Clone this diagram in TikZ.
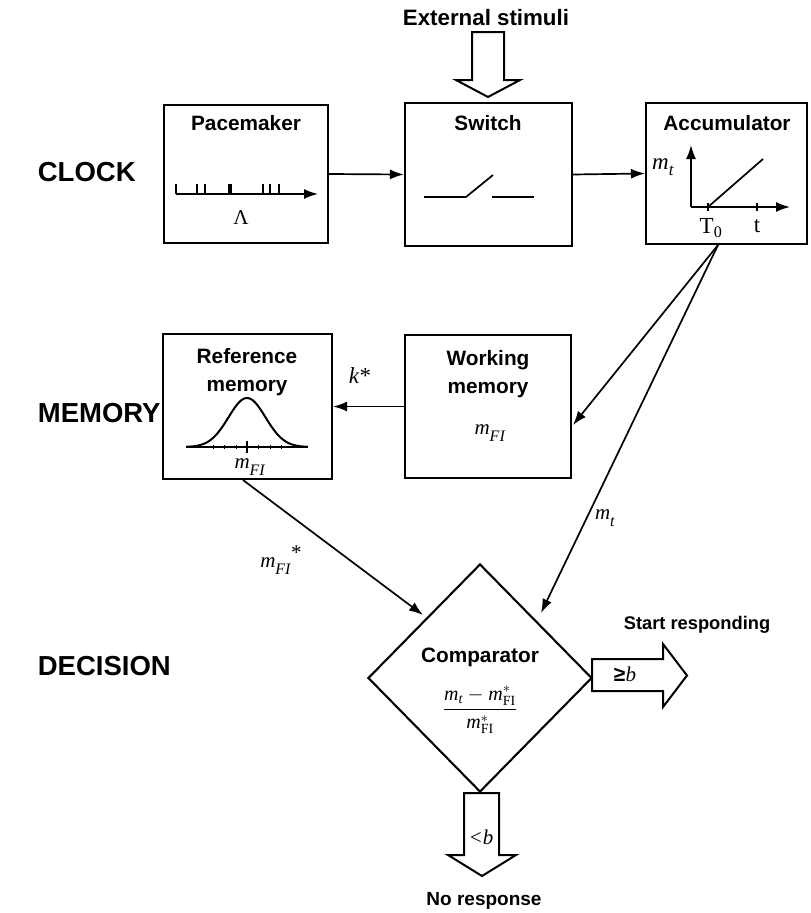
\documentclass[tikz,border=0pt]{standalone}
\usepackage{fontspec}
\setmainfont{Liberation Serif}
\setsansfont{Liberation Sans}
\usetikzlibrary{arrows.meta,shapes.geometric}
\newcommand\sbx[1]{\raisebox{-0.33em}{\fontsize{16}{18}\selectfont\textit{#1}}}
\newcommand\mFI{\textit{m}\sbx{FI}}
\newcommand\mTT{\textit{m}\sbx{t}}
\begin{document}
\begin{tikzpicture}[x=1pt,y=-1pt, line width=1.7pt,
 box/.style={draw, line width=2.1pt, inner sep=0pt},
 ttl/.style={font=\fontsize{20.8}{28}\selectfont\sffamily\bfseries, align=center, inner sep=0pt},
 big/.style={font=\fontsize{22.3}{24}\selectfont\sffamily\bfseries, inner sep=0pt},
 lbl/.style={font=\fontsize{27.5}{30}\selectfont\sffamily\bfseries, anchor=west, inner sep=0pt},
 mth/.style={font=\fontsize{21}{24}\selectfont, inner sep=0pt},
 arr/.style={-{Latex[length=14pt,width=10pt]}, line width=1.7pt},
 blk/.style={draw, line width=2pt, fill=white, line join=miter},
]
\useasboundingbox (0,0) rectangle (811,913);

% left labels
\node[lbl] (clock) at (37,172) {CLOCK};
\node[lbl] (memory) at (37,413) {MEMORY};
\node[lbl] (decision) at (37,666) {DECISION};

% boxes
\node[box, minimum width=164pt, minimum height=138pt] (pace) at (246,174) {};
\node[box, minimum width=167pt, minimum height=143pt] (switch) at (488.5,174.5) {};
\node[box, minimum width=161pt, minimum height=141pt] (accum) at (726.5,173.5) {};
\node[box, minimum width=169pt, minimum height=145pt] (refm) at (247.5,406.5) {};
\node[box, minimum width=166pt, minimum height=143pt] (work) at (488,406.5) {};
\node[box, diamond, minimum width=224pt, minimum height=228pt] (comp) at (480,678) {};

% titles
\node[ttl] (paceT) at (246,123) {Pacemaker};
\node[ttl] (switchT) at (488,123) {Switch};
\node[ttl] (accumT) at (727,123) {Accumulator};
\node[ttl] (refmT) at (247,372) {Reference\\memory};
\node[ttl] (workT) at (488,374) {Working\\memory};
\node[ttl] (compT) at (480,657) {Comparator};

% pacemaker internals
\draw[arr] (176,194) -- (318,194);
\foreach \x in {176,197,205,229,231,263,270,279} \draw (\x,194) -- (\x,184);
\node[mth] (lam) at (241,218) {Λ};

% switch internals
\draw (424,197) -- (466,197) -- (493,175);
\draw (492,197) -- (534,197);

% accumulator internals
\draw[arr] (691,207) -- (691,145);
\draw[arr] (691,207) -- (790,207);
\draw (708,207) -- (763,159);
\draw (708,203) -- (708,211);
\draw (757,203) -- (757,211);
\node[mth, font=\fontsize{23}{26}\selectfont] (T0) at (711,228) {T\textsubscript{0}};
\node[mth, font=\fontsize{23}{26}\selectfont] (tl) at (757,226) {t};
\node[mth, font=\fontsize{23}{26}\selectfont] (mtacc) at (663,167) {\textit{m}\raisebox{-0.25em}{\fontsize{17}{18}\selectfont\textit{t}}};

% reference memory internals
\draw[line width=2.4pt] (186,447) -- (308,447);
\draw[line width=2pt] plot[domain=-61:61, samples=80] ({247+\x}, {447-49*exp(-(\x/18.5)^2/2)});
\foreach \x in {213,224,236,258,270,281} \draw[line width=0.8pt] (\x,445) -- (\x,449);
\draw (247,441) -- (247,453);
\node[mth] (mfiR) at (250,467) {\mFI};

% working memory internals
\node[mth] (mfiW) at (490,433) {\mFI};

% comparator fraction
\node[mth, font=\fontsize{20}{22}\selectfont] (frac) at (480,710) {$\displaystyle\frac{\mathit{m}_{\mathit{t}} - \mathit{m}_{\mathrm{FI}}^{*}}{\mathit{m}_{\mathrm{FI}}^{*}}$};

% connectors
\draw[arr] (pace.east) -- (switch.west);
\draw[arr] (switch.east) -- (accum.west);
\draw[arr] (work.west) -- (refm.east);
\node[mth, font=\fontsize{23}{26}\selectfont] (kstar) at (360,376) {\textit{k}*};

\coordinate (accsrc) at (718,245);
\coordinate (workin) at (573,425);
\coordinate (compin1) at (541,613);
\coordinate (refsrc) at (243,480);
\coordinate (compin2) at (423,615);
\draw[arr] (accsrc) -- (workin);
\draw[arr] (accsrc) -- (compin1);
\draw[arr] (refsrc) -- (compin2);
\node[mth] (mtlab) at (605,518) {\mTT};
\node[mth] (mfistar) at (281,560) {\mFI\raisebox{0.35em}{*}};

% block arrows
\node[big] (ext) at (486,18) {External stimuli};
\draw[blk] (472,32) -- (504,32) -- (504,80) -- (520,80) -- (488,97) -- (456,80) -- (472,80) -- cycle;

\draw[blk] (592,659) -- (663,659) -- (663,644) -- (687,675.5) -- (663,707) -- (663,691) -- (592,691) -- cycle;
\node[mth] (geb) at (625,674) {{\sffamily\bfseries ≥}\textit{b}};
\node[big, font=\fontsize{18.3}{22}\selectfont\sffamily\bfseries] (start) at (697,625) {Start responding};

\draw[blk] (464,793) -- (499,793) -- (499,855) -- (516,855) -- (482,876) -- (448,855) -- (464,855) -- cycle;
\node[mth] (ltb) at (481,837) {\textit{<b}};
\node[big, font=\fontsize{19}{22}\selectfont\sffamily\bfseries] (nores) at (484,901) {No response};
\end{tikzpicture}
\end{document}
